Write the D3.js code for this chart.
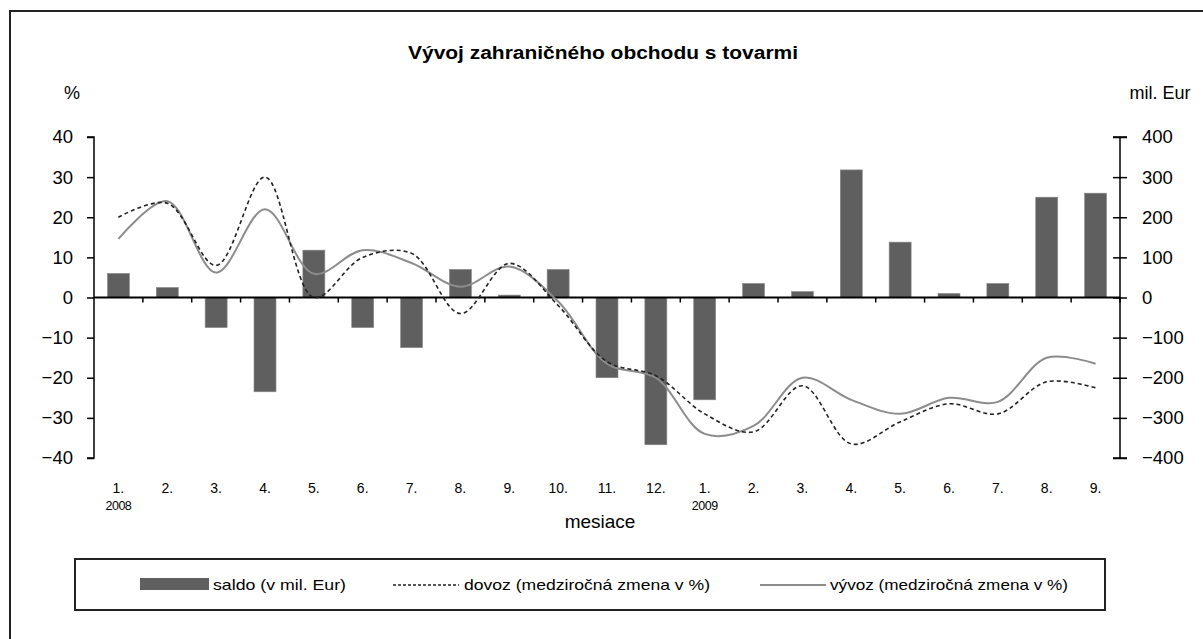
<!DOCTYPE html>
<html><head><meta charset="utf-8">
<script src="https://cdn.jsdelivr.net/npm/d3@7"></script>
<style>body{margin:0;background:#fff}svg{display:block;font-family:"Liberation Sans",Arial,sans-serif}</style>
</head><body>
<svg id="c" width="1203" height="639"></svg>
<script>
const months = ["1.","2.","3.","4.","5.","6.","7.","8.","9.","10.","11.","12.","1.","2.","3.","4.","5.","6.","7.","8.","9."];
const years = ["2008","","","","","","","","","","","","2009","","","","","","","",""];
const saldo = [60,25,-75,-235,118,-75,-125,70,6,70,-200,-367,-255,35,15,318,138,10,35,250,260];
const dovoz = [20,23.5,8,30,0,10,11,-4,8.5,-2,-16,-19.5,-29,-33.5,-22,-36.5,-31,-26.5,-29,-21,-22.5];
const vyvoz = [14.6,24,6.2,22,5.9,11.8,8.6,2.7,7.7,-1,-16.5,-20,-34,-32,-20,-25.5,-29,-25,-26,-15,-16.5];
const leftTicks = [40,30,20,10,0,-10,-20,-30,-40];
const rightTicks = [400,300,200,100,0,-100,-200,-300,-400];
const title = "Vývoj zahraničného obchodu s tovarmi";
const legendLabels = ["saldo (v mil. Eur)","dovoz (medziročná zmena v %)","vývoz (medziročná zmena v %)"];

const svg = d3.select("#c");
const L = 94, R = 1120, T = 137, B = 458;
const idx = months.map((d,i)=>i);
const x = d3.scaleBand().domain(idx).range([L,R]).paddingInner(0.55).paddingOuter(0.275);
const xc = i => x(i) + x.bandwidth()/2;
const xs = d3.scaleBand().domain(idx).range([L,R]);
const yL = d3.scaleLinear().domain([-40,40]).range([B,T]);
const yR = d3.scaleLinear().domain([-400,400]).range([B,T]);

// outer frame
svg.append("rect").attr("x",10).attr("y",11).attr("width",1240).attr("height",700)
  .attr("fill","none").attr("stroke","#222").attr("stroke-width",2);

svg.append("text").attr("x",408).attr("y",59)
  .attr("font-size",18).attr("font-weight","bold")
  .attr("textLength",390).attr("lengthAdjust","spacingAndGlyphs").text(title);

svg.append("text").attr("x",72).attr("y",99).attr("text-anchor","middle").attr("font-size",18).text("%");
svg.append("text").attr("x",1160).attr("y",99).attr("text-anchor","middle").attr("font-size",18).text("mil. Eur");

// bars
svg.append("g").selectAll("rect").data(saldo).join("rect")
  .attr("x",(d,i)=>x(i)).attr("width",x.bandwidth())
  .attr("y",d=>yR(Math.max(0,d))).attr("height",d=>Math.abs(yR(d)-yR(0)))
  .attr("fill","#5f5f5f").attr("stroke","#8a8a8a").attr("stroke-width",0.6);

// left axis
const gl = svg.append("g").attr("transform",`translate(${L},0)`)
  .call(d3.axisLeft(yL).tickValues(leftTicks).tickSize(7).tickPadding(14).tickFormat(d3.format("d")));
gl.selectAll("text").attr("font-size",18.5).attr("fill","#000").attr("font-family","Liberation Sans, Arial");
gl.selectAll("line,path").attr("stroke","#000").attr("stroke-width",1.5);
gl.select("path").attr("d",`M-7,${T}H0V${B}H-7`);

// right axis with cross ticks
const gr = svg.append("g").attr("transform",`translate(${R},0)`)
  .call(d3.axisRight(yR).tickValues(rightTicks).tickSize(7).tickPadding(15).tickFormat(d3.format("d")));
gr.selectAll("text").attr("font-size",18.5).attr("fill","#000").attr("font-family","Liberation Sans, Arial");
gr.selectAll(".tick line").attr("x1",-7).attr("x2",7);
gr.selectAll("line,path").attr("stroke","#000").attr("stroke-width",1.5);
gr.select("path").attr("d",`M-7,${T}H7M0,${T}V${B}M-7,${B}H7`);

// x axis at zero
const y0 = yL(0);
svg.append("line").attr("x1",L).attr("x2",R).attr("y1",y0).attr("y2",y0).attr("stroke","#000").attr("stroke-width",2);
svg.append("g").selectAll("line").data(idx.slice(1).concat([idx.length])).join("line")
  .attr("x1",i=>L + i*xs.step()).attr("x2",i=>L + i*xs.step())
  .attr("y1",y0).attr("y2",y0+5).attr("stroke","#000").attr("stroke-width",1.5);

// month labels
svg.append("g").selectAll("text").data(months).join("text")
  .attr("x",(d,i)=>xc(i)).attr("y",493).attr("text-anchor","middle").attr("font-size",14).text(d=>d);
svg.append("g").selectAll("text").data(years).join("text")
  .attr("x",(d,i)=>xc(i)).attr("y",510).attr("text-anchor","middle").attr("font-size",12.5).attr("letter-spacing",-0.5).text(d=>d);
svg.append("text").attr("x",600).attr("y",528).attr("text-anchor","middle").attr("font-size",19).text("mesiace");

// lines
const line = d3.line().x((d,i)=>xc(i)).y(d=>yL(d)).curve(d3.curveCatmullRom.alpha(0.5));
svg.append("path").attr("d",line(vyvoz)).attr("fill","none").attr("stroke","#8c8c8c").attr("stroke-width",2);
svg.append("path").attr("d",line(dovoz)).attr("fill","none").attr("stroke","#222").attr("stroke-width",1.6).attr("stroke-dasharray","4,3");

// legend
const lg = svg.append("g");
lg.append("rect").attr("x",75).attr("y",559).attr("width",1030).attr("height",51)
  .attr("fill","none").attr("stroke","#222").attr("stroke-width",2);
lg.append("rect").attr("x",140).attr("y",578).attr("width",69).attr("height",12).attr("fill","#5f5f5f");
lg.append("line").attr("x1",393).attr("x2",459).attr("y1",585).attr("y2",585).attr("stroke","#222").attr("stroke-width",1.5).attr("stroke-dasharray","3,2");
lg.append("line").attr("x1",760).attr("x2",826).attr("y1",585).attr("y2",585).attr("stroke","#8c8c8c").attr("stroke-width",2);
const lx = [213,464,830], lw = [133,246,238];
lg.selectAll("text.l").data(legendLabels).join("text").attr("class","l")
  .attr("x",(d,i)=>lx[i]).attr("y",590).attr("font-size",15)
  .attr("textLength",(d,i)=>lw[i]).attr("lengthAdjust","spacingAndGlyphs").text(d=>d);
</script>
</body></html>
